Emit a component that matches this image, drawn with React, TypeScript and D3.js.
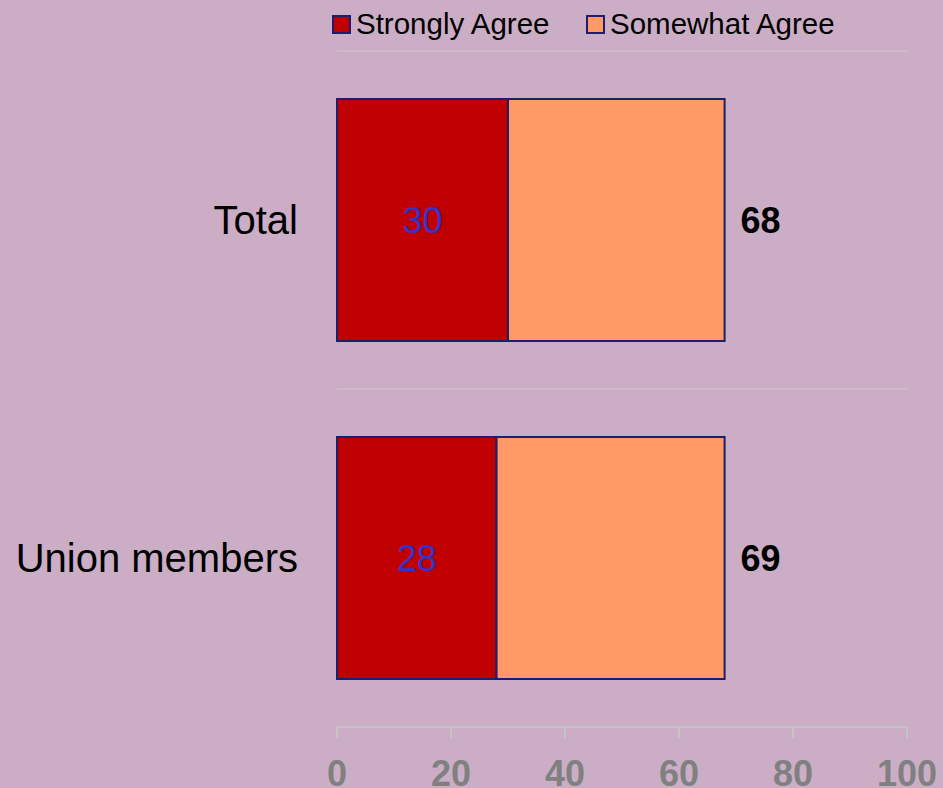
import React from "react";
import * as d3 from "d3";

const categories = ["Total", "Union members"];
const stronglyAgree = [30, 28];
const somewhatAgree = [38, 40];
const totalLabels = [68, 69];
const seriesNames = ["Strongly Agree", "Somewhat Agree"];
const seriesColors = ["#C00000", "#FF9966"];
const xTicks = [0, 20, 40, 60, 80, 100];

const W = 943;
const H = 788;
const FONT = "'Liberation Sans', Arial, Helvetica, sans-serif";

export default function App() {
  const x = d3.scaleLinear().domain([0, 100]).range([337, 907]);
  const y = d3
    .scaleBand<string>()
    .domain(categories)
    .range([51, 727])
    .paddingInner(0.284)
    .paddingOuter(0.142);
  const step = y.step();
  const gridYs = categories.map((_, i) => 51 + i * step);
  const stroke = "#1E1E6A";

  return (
    <svg
      width={W}
      height={H}
      style={{ position: "absolute", left: 0, top: 0, display: "block" }}
      fontFamily={FONT}
    >
      <rect x={0} y={0} width={W} height={H} fill="#CBAEC5" />
      {/* gridlines */}
      {gridYs.map((gy, i) => (
        <line key={i} x1={x(0)} x2={x(100)} y1={gy} y2={gy} stroke="#D3BDCE" strokeWidth={1.5} />
      ))}
      {/* legend */}
      {seriesNames.map((name, i) => {
        const lx = i === 0 ? 333 : 587;
        return (
          <g key={name}>
            <rect x={lx} y={16} width={17} height={17} fill={seriesColors[i]} stroke={stroke} strokeWidth={2} />
            <text x={lx + 23} y={34} fontSize={29.5} fill="#000">
              {name}
            </text>
          </g>
        );
      })}
      {/* bars */}
      {categories.map((c, i) => {
        const by = y(c)!;
        const bh = y.bandwidth();
        const cy = by + bh / 2;
        const s = stronglyAgree[i];
        const w = somewhatAgree[i];
        return (
          <g key={c}>
            <rect x={x(0)} y={by} width={x(s) - x(0)} height={bh} fill={seriesColors[0]} stroke={stroke} strokeWidth={2} />
            <rect x={x(s)} y={by} width={x(s + w) - x(s)} height={bh} fill={seriesColors[1]} stroke={stroke} strokeWidth={2} />
            <text x={(x(0) + x(s)) / 2} y={cy} dy="0.36em" textAnchor="middle" fontSize={36} fill="#3333CC">
              {s}
            </text>
            <text x={x(s + w) + 16} y={cy} dy="0.36em" fontSize={36} fontWeight="bold" fill="#000">
              {totalLabels[i]}
            </text>
            <text x={298} y={cy} dy="0.36em" textAnchor="end" fontSize={40} fill="#000">
              {c}
            </text>
          </g>
        );
      })}
      {/* x axis */}
      <line x1={x(0)} x2={x(100)} y1={727} y2={727} stroke="#C4C4C4" strokeWidth={2} />
      {xTicks.map((t) => (
        <g key={t}>
          <line x1={x(t)} x2={x(t)} y1={727} y2={738} stroke="#C4C4C4" strokeWidth={2} />
          <text x={x(t)} y={786} textAnchor="middle" fontSize={36} fontWeight="bold" fill="#808080">
            {t}
          </text>
        </g>
      ))}
    </svg>
  );
}
